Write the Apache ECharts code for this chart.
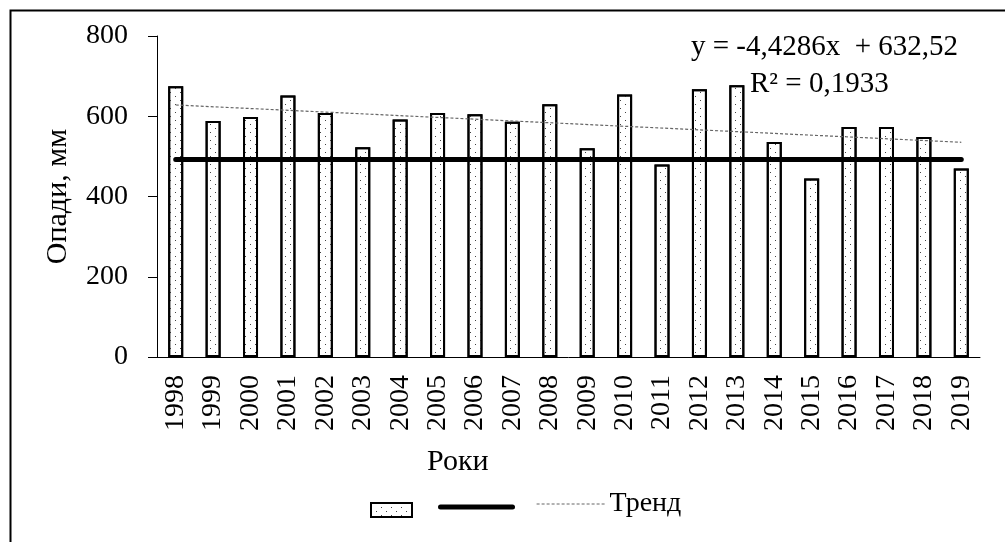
<!DOCTYPE html>
<html>
<head>
<meta charset="utf-8">
<script src="https://cdn.jsdelivr.net/npm/echarts@6/dist/echarts.min.js"></script>
<style>
html,body{margin:0;padding:0;background:#fff;}
#chart{width:1005px;height:542px;}
</style>
</head>
<body>
<div id="chart"></div>
<script>
var years = ['1998','1999','2000','2001','2002','2003','2004','2005','2006','2007','2008','2009','2010','2011','2012','2013','2014','2015','2016','2017','2018','2019'];
var precip = [675, 588, 598, 652, 608, 523, 592, 608, 605, 586, 630, 520, 654, 480, 667, 677, 536, 445, 573, 573, 548, 470];
var normValue = 492;
var trendStart = 628.1;
var trendEnd = 535.1;
var yTicks = [0, 200, 400, 600, 800];
var equationLines = ['y = -4,4286x  + 632,52', 'R² = 0,1933'];

var FONT = "'Liberation Serif','Times New Roman',serif";

var normData = years.map(function(){ return normValue; });
var trendData = years.map(function(y, i){
  if (i === 0) return trendStart;
  if (i === years.length - 1) return trendEnd;
  return null;
});

var chart = echarts.init(document.getElementById('chart'), null, {renderer:'canvas'});
var barDecal = {
  symbol: 'rect',
  symbolSize: 1,
  color: '#444',
  dashArrayX: [[1, 9], [0, 5, 1, 4]],
  dashArrayY: [1, 2.3],
  rotation: 0
};
var hiddenSymbol = {color: 'rgba(0,0,0,0)', borderColor: 'rgba(0,0,0,0)', borderWidth: 0};

chart.setOption({
  backgroundColor: '#fff',
  animation: false,
  grid: {left: 157, right: 25, top: 36, bottom: 185, containLabel: false},
  legend: [
    {data: [{name: 'Опади', icon: 'rect'}], left: 365, top: 497, itemWidth: 41, itemHeight: 14, formatter: function(){return '';}, textStyle:{fontFamily:FONT,fontSize:28}, selectedMode:false,
      itemStyle: {borderWidth: 2, borderColor: '#000'}},
    {data: ['Норма'], left: 433, top: 488, itemWidth: 72, itemHeight: 28, formatter: function(){return '';}, textStyle:{fontFamily:FONT,fontSize:28}, selectedMode:false,
      itemStyle: hiddenSymbol, lineStyle: {color: '#000', width: 5, cap: 'round'}},
    {data: ['Тренд'], left: 531, top: 485, itemWidth: 70, itemHeight: 28, itemGap: 4, textStyle:{fontFamily:FONT,fontSize:28,color:'#000',padding:[0,0,0,-2]}, selectedMode:false,
      itemStyle: hiddenSymbol, lineStyle: {color: '#666', width: 1.2, type: [3, 2]}}
  ],
  xAxis: {
    type: 'category',
    data: years,
    boundaryGap: true,
    axisLine: {show: true, lineStyle: {color: '#000', width: 1}},
    axisTick: {show: false},
    axisLabel: {rotate: 90, margin: 18, color: '#000', fontFamily: FONT, fontSize: 28, interval: 0},
    splitLine: {show: false}
  },
  yAxis: {
    type: 'value',
    min: 0, max: 800, interval: 200,
    name: 'Опади, мм',
    nameLocation: 'middle',
    nameGap: 84,
    nameTextStyle: {color: '#000', fontFamily: FONT, fontSize: 30},
    axisLine: {show: true, lineStyle: {color: '#000', width: 1}},
    axisTick: {show: true, length: 9, lineStyle: {color: '#000'}},
    axisLabel: {margin: 29, color: '#000', fontFamily: FONT, fontSize: 28,
      formatter: function(v){ return yTicks.indexOf(v) >= 0 ? String(v) : ''; }},
    splitLine: {show: false}
  },
  series: [
    {
      name: 'Опади',
      type: 'bar',
      data: precip,
      barWidth: 15,
      itemStyle: {color: '#fff', borderColor: '#000', borderWidth: 2, decal: barDecal},
      z: 2
    },
    {
      name: 'Норма',
      type: 'line',
      data: normData,
      symbol: 'none',
      lineStyle: {color: '#000', width: 5, cap: 'round'},
      itemStyle: {color: '#000'},
      z: 3
    },
    {
      name: 'Тренд',
      type: 'line',
      data: trendData,
      connectNulls: true,
      symbol: 'none',
      lineStyle: {color: '#666', width: 1.2, type: [3, 2]},
      itemStyle: {color: '#666'},
      z: 4
    }
  ],
  graphic: [
    {type: 'rect', left: 8, top: 8, shape: {width: 1100, height: 600}, style: {fill: 'none', stroke: '#000', lineWidth: 2}, silent: true, z: 10},
    {type: 'text', left: 427, top: 447, style: {text: 'Роки', fontFamily: FONT, fontSize: 30, fill: '#000'}},
    {type: 'text', right: 47, top: 33, style: {text: equationLines[0], fontFamily: FONT, fontSize: 29, fill: '#000'}},
    {type: 'text', left: 750, top: 70, style: {text: equationLines[1], fontFamily: FONT, fontSize: 29, fill: '#000'}}
  ]
});
</script>
</body>
</html>
